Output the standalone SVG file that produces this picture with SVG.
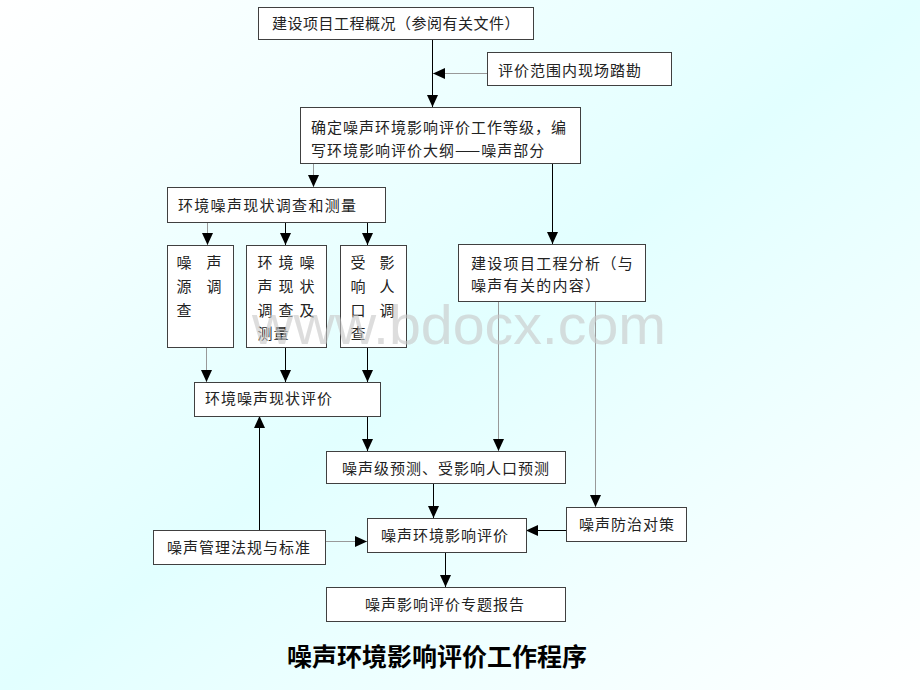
<svg xmlns="http://www.w3.org/2000/svg" width="920" height="690" viewBox="0 0 920 690">
<defs>
<linearGradient id="bg" x1="0" y1="0" x2="1" y2="1">
<stop offset="0" stop-color="#ffffff"/>
<stop offset="0.5" stop-color="#e2ffff"/>
<stop offset="1" stop-color="#ffffff"/>
</linearGradient>
<marker id="ah" markerUnits="userSpaceOnUse" markerWidth="12" markerHeight="12" viewBox="0 0 12 12" refX="12" refY="6" orient="auto">
<path d="M0,0.5 L12,6 L0,11.5 z" fill="#000"/>
</marker>
<style>
.box{fill:#fff;stroke:#404040;stroke-width:1}
.t{font-family:"Noto Sans CJK SC","Noto Sans",sans-serif;font-size:15px;fill:#222}
.c{text-anchor:middle}
.k{stroke:#000;stroke-width:1;fill:none}
.g{stroke:#999;stroke-width:1;fill:none}
.a{marker-end:url(#ah)}
</style>
</defs>
<rect x="0" y="0" width="920" height="690" fill="url(#bg)"/>

<g id="connectors">
<line class="k a" x1="432.5" y1="39" x2="432.5" y2="107"/>
<line class="g a" x1="487" y1="73.5" x2="433" y2="73.5"/>
<line class="g a" x1="313.5" y1="163" x2="313.5" y2="187"/>
<line class="k a" x1="552.5" y1="163" x2="552.5" y2="244"/>
<line class="g a" x1="207.5" y1="222" x2="207.5" y2="245"/>
<line class="k a" x1="285.5" y1="222" x2="285.5" y2="245"/>
<line class="k a" x1="367.5" y1="222" x2="367.5" y2="245"/>
<line class="g a" x1="206.5" y1="347" x2="206.5" y2="382"/>
<line class="k a" x1="285.5" y1="347" x2="285.5" y2="382"/>
<line class="k a" x1="367.5" y1="347" x2="367.5" y2="382"/>
<line class="k a" x1="367.5" y1="416" x2="367.5" y2="451"/>
<line class="g a" x1="498.5" y1="301" x2="498.5" y2="451"/>
<line class="g a" x1="595.5" y1="301" x2="595.5" y2="507"/>
<line class="k a" x1="433.5" y1="483" x2="433.5" y2="518"/>
<line class="k a" x1="566" y1="530.5" x2="526" y2="530.5"/>
<line class="g a" x1="326" y1="541.5" x2="367" y2="541.5"/>
<line class="k a" x1="259.5" y1="530" x2="259.5" y2="416"/>
<line class="k a" x1="445.5" y1="552" x2="445.5" y2="587"/>
</g>

<g id="n1"><rect class="box" x="258.5" y="7.5" width="275" height="32"/>
<text class="t" x="272" y="29" letter-spacing="0.5">建设项目工程概况（参阅有关文件）</text></g>

<g id="n2"><rect class="box" x="487.5" y="52.5" width="184" height="33"/>
<text class="t" x="498" y="75.5" letter-spacing="1">评价范围内现场踏勘</text></g>

<g id="n3"><rect class="box" x="300.5" y="107.5" width="280" height="56"/>
<text class="t" x="311" y="132.5" letter-spacing="1">确定噪声环境影响评价工作等级，编</text>
<text class="t" x="311" y="155.5" letter-spacing="1">写环境影响评价大纲——噪声部分</text></g>

<g id="n4"><rect class="box" x="167.5" y="187.5" width="218" height="35"/>
<text class="t" x="178" y="210.5" letter-spacing="1.3">环境噪声现状调查和测量</text></g>

<g id="n5"><rect class="box" x="167.5" y="245.5" width="66" height="102"/>
<text class="t c" x="184" y="268">噪</text><text class="t c" x="214" y="268">声</text>
<text class="t c" x="184" y="292">源</text><text class="t c" x="214" y="292">调</text>
<text class="t c" x="184" y="316">查</text></g>

<g id="n6"><rect class="box" x="246.5" y="245.5" width="80" height="102"/>
<text class="t c" x="265" y="268">环</text><text class="t c" x="286" y="268">境</text><text class="t c" x="307" y="268">噪</text>
<text class="t c" x="265" y="292">声</text><text class="t c" x="286" y="292">现</text><text class="t c" x="307" y="292">状</text>
<text class="t c" x="265" y="316">调</text><text class="t c" x="286" y="316">查</text><text class="t c" x="307" y="316">及</text>
<text class="t c" x="265" y="339">测</text><text class="t c" x="281" y="339">量</text></g>

<g id="n7"><rect class="box" x="340.5" y="245.5" width="66" height="102"/>
<text class="t c" x="358" y="268">受</text><text class="t c" x="387" y="268">影</text>
<text class="t c" x="358" y="292">响</text><text class="t c" x="387" y="292">人</text>
<text class="t c" x="358" y="316">口</text><text class="t c" x="387" y="316">调</text>
<text class="t c" x="358" y="339">查</text></g>

<g id="n8"><rect class="box" x="458.5" y="244.5" width="187" height="57"/>
<text class="t" x="471" y="268.5" letter-spacing="1.3">建设项目工程分析（与</text>
<text class="t" x="471" y="291" letter-spacing="1.3">噪声有关的内容）</text></g>

<g id="n9"><rect class="box" x="194.5" y="382.5" width="186" height="34"/>
<text class="t" x="205" y="404" letter-spacing="1">环境噪声现状评价</text></g>

<g id="n10"><rect class="box" x="326.5" y="451.5" width="239" height="32"/>
<text class="t" x="342" y="473.5" letter-spacing="1">噪声级预测、受影响人口预测</text></g>

<g id="n11"><rect class="box" x="367.5" y="518.5" width="159" height="34"/>
<text class="t" x="381" y="541" letter-spacing="1">噪声环境影响评价</text></g>

<g id="n12"><rect class="box" x="566.5" y="507.5" width="120" height="34"/>
<text class="t" x="579" y="530" letter-spacing="1">噪声防治对策</text></g>

<g id="n13"><rect class="box" x="153.5" y="530.5" width="172" height="34"/>
<text class="t" x="167" y="552.5" letter-spacing="1">噪声管理法规与标准</text></g>

<g id="n14"><rect class="box" x="326.5" y="587.5" width="239" height="34"/>
<text class="t" x="365" y="609.5" letter-spacing="1">噪声影响评价专题报告</text></g>

<text x="287" y="666" style="font-family:'Noto Sans CJK SC',sans-serif;font-size:25px;font-weight:bold;fill:#000">噪声环境影响评价工作程序</text>

<text x="252" y="344" textLength="414" lengthAdjust="spacingAndGlyphs" style="font-family:'Liberation Sans',Arial,sans-serif;font-size:56px;fill:#c8c8c8;opacity:0.6">www.bdocx.com</text>
</svg>
